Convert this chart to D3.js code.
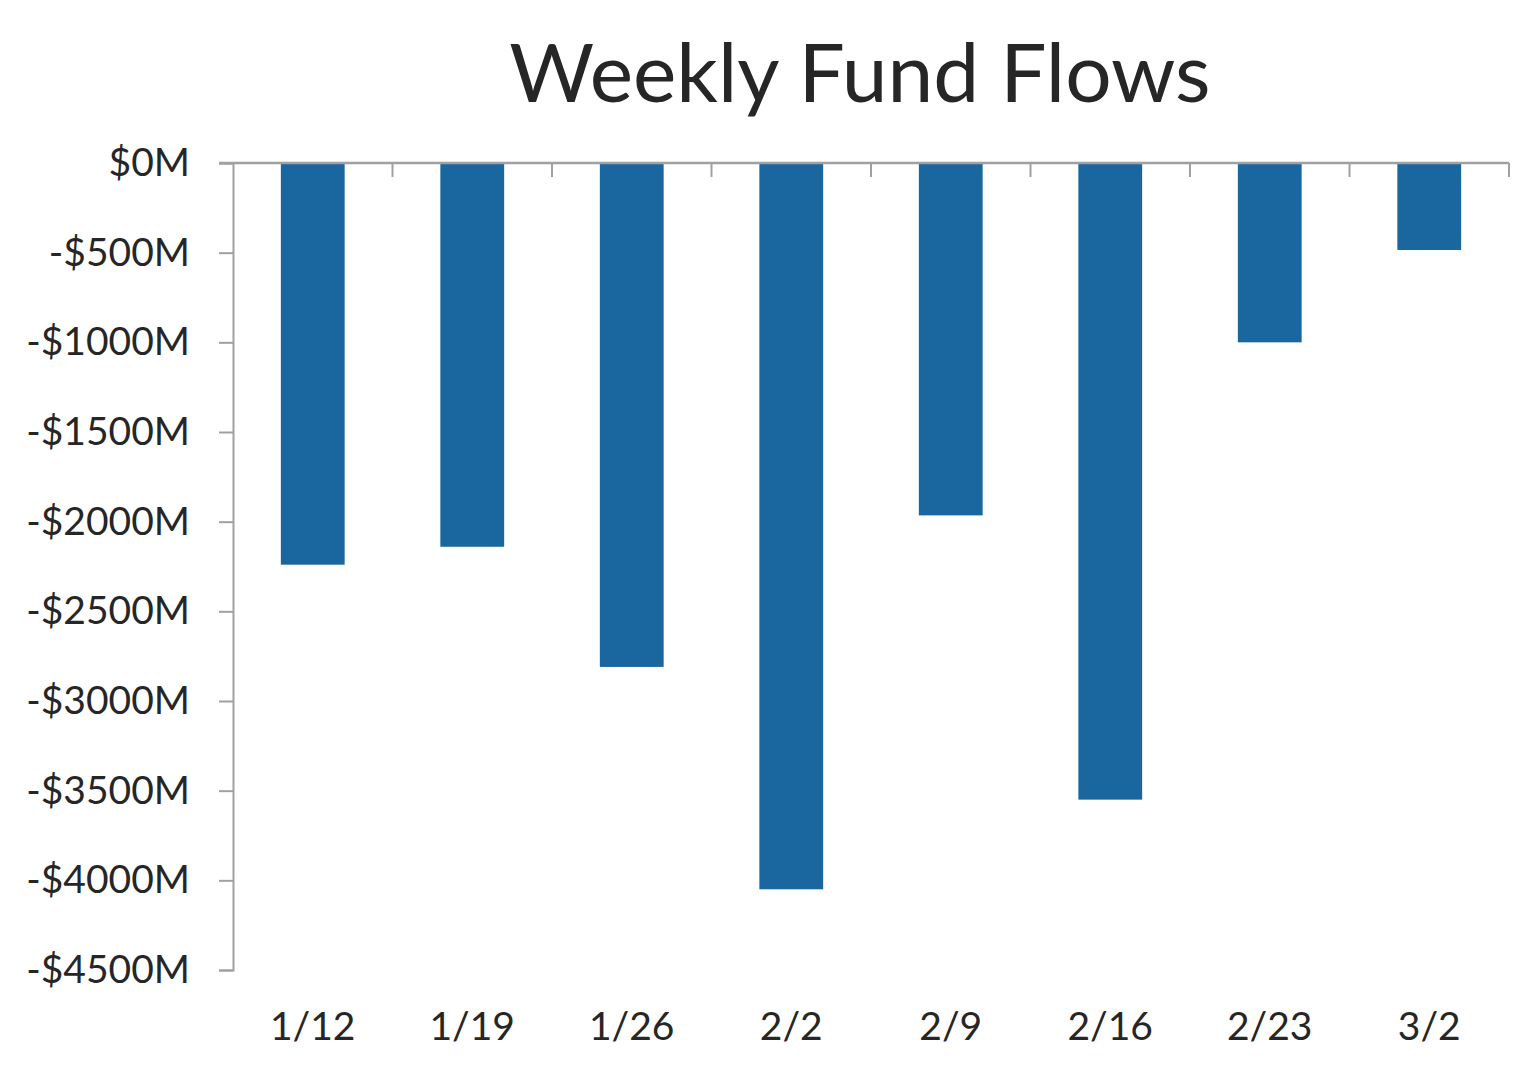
<!DOCTYPE html>
<html><head><meta charset="utf-8">
<script src="https://cdn.jsdelivr.net/npm/d3@7"></script>
<style>body{margin:0;background:#fff}svg{display:block}</style>
</head><body>
<svg id="c" width="1536" height="1077"></svg>
<script>
const categories = ["1/12","1/19","1/26","2/2","2/9","2/16","2/23","3/2"];
const flows = [-2240,-2140,-2810,-4050,-1965,-3550,-1000,-485];
const yTicks = [0,-500,-1000,-1500,-2000,-2500,-3000,-3500,-4000,-4500];
const title = "Weekly Fund Flows";

const svg = d3.select("#c");
const L=233,R=1509,T=163,B=970;
const font = "Lato, 'Open Sans', sans-serif";
const x = d3.scaleBand().domain(categories).range([L,R]).paddingInner(0.6).paddingOuter(0.3);
const y = d3.scaleLinear().domain([-4500,0]).range([B,T]);
const axisColor = "#a0a0a0";
const textColor = "#262626";

svg.append("text").attr("x",860).attr("y",102).attr("text-anchor","middle")
  .attr("font-family",font).attr("font-size",82).attr("fill",textColor).text(title);

svg.selectAll("rect.bar").data(flows).join("rect").attr("class","bar")
  .attr("x",(d,i)=>x(categories[i])).attr("width",x.bandwidth())
  .attr("y",d=>y(0)).attr("height",d=>y(d)-y(0)).attr("fill","#1a67a0");

// y axis
const ya = svg.append("g").attr("transform",`translate(${L},0)`)
  .call(d3.axisLeft(y).tickValues(yTicks).tickSize(14).tickPadding(29)
    .tickFormat(d=> (d<0?"-":"")+"$"+Math.abs(d)+"M"));
ya.select(".domain").attr("stroke",axisColor).attr("stroke-width",2);
ya.selectAll(".tick line").attr("stroke",axisColor).attr("stroke-width",2);
ya.selectAll(".tick text").attr("font-family",font).attr("font-size",39).attr("fill",textColor).attr("dy","0.32em");

// x axis (top, at zero)
const step = x.step();
const bounds = d3.range(categories.length+1).map(i=>L+i*step);
svg.append("line").attr("x1",L-14).attr("x2",R).attr("y1",y(0)).attr("y2",y(0))
  .attr("stroke",axisColor).attr("stroke-width",2.5);
svg.selectAll("line.xt").data(bounds.slice(1)).join("line").attr("class","xt")
  .attr("x1",d=>d).attr("x2",d=>d).attr("y1",y(0)).attr("y2",y(0)+14)
  .attr("stroke",axisColor).attr("stroke-width",2);
svg.selectAll("text.xl").data(categories).join("text").attr("class","xl")
  .attr("x",d=>x(d)+x.bandwidth()/2).attr("y",1040).attr("text-anchor","middle")
  .attr("font-family",font).attr("font-size",39).attr("fill",textColor).text(d=>d);
</script>
</body></html>
